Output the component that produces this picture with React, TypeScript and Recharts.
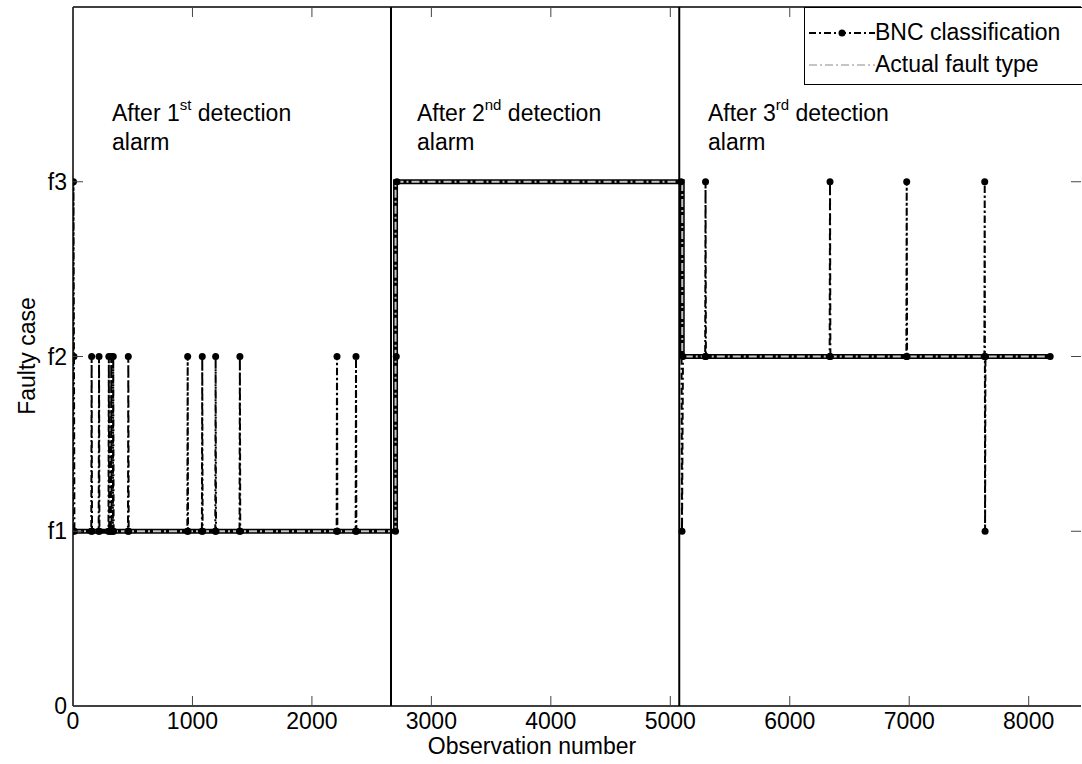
import React from 'react';
import { LineChart, Line, XAxis, YAxis, ReferenceLine } from 'recharts';

const FONT = '"Liberation Sans", Arial, sans-serif';

const bncObservation = [
  0, 4, 8, 12,
  153, 156, 159, 215, 218, 221, 297, 300, 303, 317, 320, 323, 334, 337, 340,
  460, 463, 466, 957, 960, 963, 1079, 1082, 1085, 1191, 1194, 1197, 1394, 1397, 1400,
  2207, 2210, 2213, 2366, 2369, 2372,
  2700, 2706, 2712,
  5090, 5098, 5106,
  5292, 5295, 5298, 6334, 6337, 6340, 6976, 6979, 6982,
  7629, 7632, 7635, 7638,
  8180,
];
const bncClass = [
  1, 3, 2, 1,
  1, 2, 1, 1, 2, 1, 1, 2, 1, 1, 2, 1, 1, 2, 1,
  1, 2, 1, 1, 2, 1, 1, 2, 1, 1, 2, 1, 1, 2, 1,
  1, 2, 1, 1, 2, 1,
  1, 2, 3,
  3, 1, 2,
  2, 3, 2, 2, 3, 2, 2, 3, 2,
  2, 3, 1, 2,
  2,
];
const actualObservation = [0, 2700, 2700, 5100, 5100, 8180];
const actualClass = [1, 1, 3, 3, 2, 2];

const alarmObservations = [2662, 5075];
const xTicks = [0, 1000, 2000, 3000, 4000, 5000, 6000, 7000, 8000];
const yTicks = [0, 1, 2, 3];
const yTickLabels = ['0', 'f1', 'f2', 'f3'];
const X_MAX = 8438;

const bncData = bncObservation.map((obs, i) => ({ obs, cls: bncClass[i] }));
const actualData = actualObservation.map((obs, i) => ({ obs, cls: actualClass[i] }));

const BottomTick = ({ x, y, payload }: any) => (
  <g>
    <line x1={x} x2={x} y1={y} y2={y - 10} stroke="#444" strokeWidth={1} />
    <text x={x} y={y + 23} textAnchor="middle" fontSize={23} fill="#000" fontFamily={FONT}>
      {payload.value}
    </text>
  </g>
);

const TopTick = ({ x, y }: any) => (
  <line x1={x} x2={x} y1={y} y2={y + 10} stroke="#444" strokeWidth={1} />
);

const LeftTick = ({ x, y, payload }: any) => (
  <g>
    <line x1={x} x2={x + 10} y1={y} y2={y} stroke="#444" strokeWidth={1} />
    <text x={x - 6} y={y} dy="0.35em" textAnchor="end" fontSize={23} fill="#000" fontFamily={FONT}>
      {yTickLabels[yTicks.indexOf(payload.value)]}
    </text>
  </g>
);

const RightTick = ({ x, y }: any) => (
  <line x1={x} x2={x - 10} y1={y} y2={y} stroke="#444" strokeWidth={1} />
);

const BncDot = ({ cx, cy, index }: any) => (
  <circle key={index} cx={cx} cy={cy} r={3.5} fill="#000" />
);

const textStyle: React.CSSProperties = {
  position: 'absolute',
  fontFamily: FONT,
  fontSize: 23,
  lineHeight: '26px',
  color: '#000',
  whiteSpace: 'nowrap',
};

function Annotation({ left, ord }: { left: number; ord: string }) {
  const n = ord.charAt(0);
  const sup = ord.slice(1);
  return (
    <div style={{ ...textStyle, left, top: 100 }}>
      After {n}
      <span style={{ fontSize: 15, position: 'relative', top: -11 }}>{sup}</span> detection
      <br />
      alarm
    </div>
  );
}

export default function App() {
  return (
    <div
      style={{
        position: 'absolute',
        left: 0,
        top: 0,
        width: 1082,
        height: 764,
        overflow: 'hidden',
        background: '#fff',
      }}
    >
      <LineChart width={1082} height={764} margin={{ top: 6, right: 0, left: 33, bottom: 28 }}>
        <XAxis
          dataKey="obs"
          type="number"
          domain={[0, X_MAX]}
          allowDataOverflow
          ticks={xTicks}
          interval={0}
          height={30}
          tickSize={0}
          tickMargin={0}
          tickLine={false}
          tick={BottomTick}
          axisLine={{ stroke: '#000', strokeWidth: 1.5 }}
        />
        <XAxis
          xAxisId="top"
          orientation="top"
          dataKey="obs"
          type="number"
          domain={[0, X_MAX]}
          allowDataOverflow
          ticks={xTicks}
          interval={0}
          height={1}
          tickSize={0}
          tickMargin={0}
          tickLine={false}
          tick={TopTick}
          axisLine={{ stroke: '#000', strokeWidth: 1.5 }}
        />
        <YAxis
          type="number"
          domain={[0, 4]}
          allowDataOverflow
          ticks={yTicks}
          interval={0}
          width={40}
          tickSize={0}
          tickMargin={0}
          tickLine={false}
          tick={LeftTick}
          axisLine={{ stroke: '#000', strokeWidth: 1.5 }}
        />
        <YAxis
          yAxisId="r"
          orientation="right"
          type="number"
          domain={[0, 4]}
          allowDataOverflow
          ticks={yTicks}
          interval={0}
          width={1}
          tickSize={0}
          tickMargin={0}
          tickLine={false}
          tick={RightTick}
          axisLine={false}
        />
        {alarmObservations.map((a) => (
          <ReferenceLine key={a} x={a} stroke="#000" strokeWidth={2} />
        ))}
        {/* dense BNC markers where it agrees with the actual class form a thick band */}
        <Line
          data={actualData}
          dataKey="cls"
          type="linear"
          stroke="#000"
          strokeWidth={5}
          dot={false}
          activeDot={false}
          legendType="none"
          isAnimationActive={false}
        />
        <Line
          data={bncData}
          dataKey="cls"
          name="BNC classification"
          type="linear"
          stroke="#000"
          strokeWidth={2}
          strokeDasharray="7 3 2 3"
          dot={BncDot}
          activeDot={false}
          isAnimationActive={false}
        />
        <Line
          data={actualData}
          dataKey="cls"
          name="Actual fault type"
          type="linear"
          stroke="#c4c4c4"
          strokeWidth={2}
          strokeDasharray="8 3 2 3"
          dot={false}
          activeDot={false}
          isAnimationActive={false}
        />
      </LineChart>

      <Annotation left={112} ord="1st" />
      <Annotation left={417} ord="2nd" />
      <Annotation left={708} ord="3rd" />

      <div
        style={{
          ...textStyle,
          lineHeight: '23px',
          left: 532,
          top: 735,
          transform: 'translateX(-50%)',
        }}
      >
        Observation number
      </div>
      <div
        style={{
          ...textStyle,
          left: 27,
          top: 356,
          transform: 'translate(-50%, -50%) rotate(-90deg)',
        }}
      >
        Faulty case
      </div>

      <div
        style={{
          position: 'absolute',
          left: 804,
          top: 7,
          width: 300,
          height: 78,
          border: '1.5px solid #000',
          background: '#fff',
          boxSizing: 'border-box',
        }}
      >
        <svg width={70} height={78} style={{ position: 'absolute', left: 2, top: 0 }}>
          <line x1={2} x2={68} y1={25} y2={25} stroke="#000" strokeWidth={2} strokeDasharray="7 3 2 3" />
          <circle cx={35} cy={25} r={3.5} fill="#000" />
          <line x1={2} x2={68} y1={57} y2={57} stroke="#c4c4c4" strokeWidth={2} strokeDasharray="8 3 2 3" />
        </svg>
        <div style={{ ...textStyle, left: 70, top: 11 }}>BNC classification</div>
        <div style={{ ...textStyle, left: 70, top: 43 }}>Actual fault type</div>
      </div>
    </div>
  );
}
